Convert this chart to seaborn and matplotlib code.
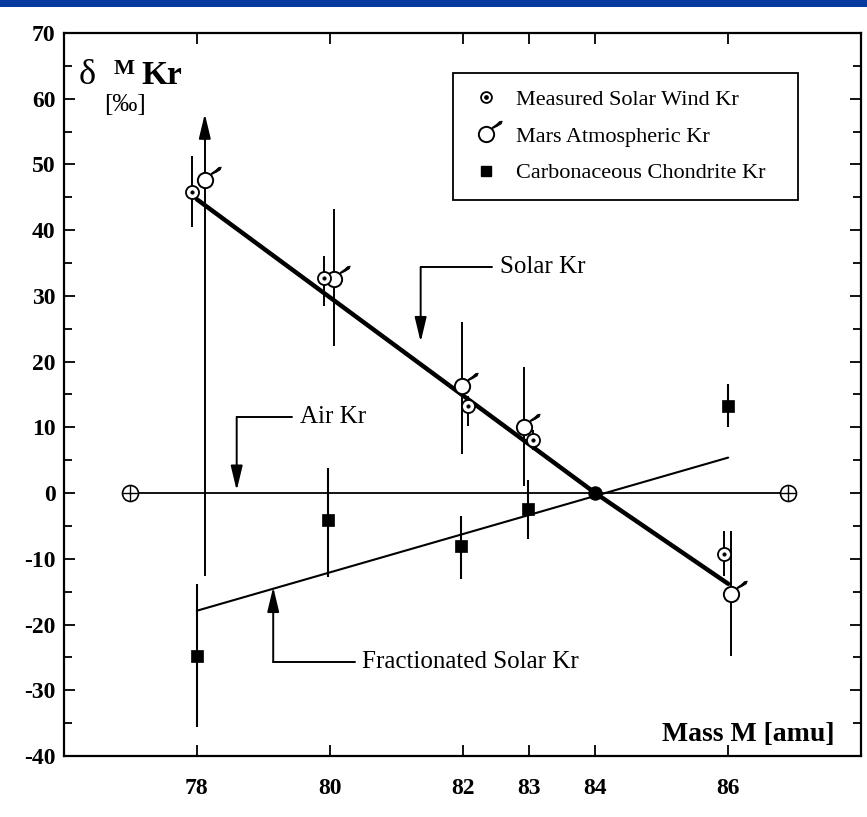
import numpy as np
import pandas as pd
import matplotlib
matplotlib.use("Agg")
import matplotlib.pyplot as plt
import seaborn as sns
from matplotlib.path import Path
from matplotlib.lines import Line2D
from matplotlib.legend_handler import HandlerTuple
from matplotlib.patches import Rectangle
from matplotlib.ticker import MultipleLocator

# ---------------- data ----------------
mass_ticks = [78, 80, 82, 83, 84, 86]
delta_ticks = list(range(-40, 71, 10))

sw_mass = [77.92, 79.91, 82.08, 83.06, 85.94]
sw_delta = [45.8, 32.8, 13.3, 8.1, -9.3]
sw_lo = [40.5, 28.5, 10.2, 6.6, -12.6]
sw_hi = [51.3, 36.1, 14.8, 9.6, -5.7]

mars_mass = [78.12, 80.07, 81.99, 82.92, 86.05]
mars_delta = [47.6, 32.6, 16.3, 10.0, -15.4]
mars_lo = [-12.6, 22.4, 5.9, 1.1, -24.8]
mars_hi = [57.7, 43.2, 26.0, 19.2, -5.7]

cc_mass = [78.0, 79.97, 81.98, 82.99, 86.0]
cc_delta = [-24.8, -4.1, -8.1, -2.4, 13.3]
cc_lo = [-35.6, -12.8, -13.0, -7.0, 10.0]
cc_hi = [-13.9, 3.8, -3.5, 2.0, 16.6]

solar_line_mass = [78, 84, 86]
solar_line_delta = [44.7, 0.0, -13.8]
frac_line_mass = [78, 86]
frac_line_delta = [-17.9, 5.4]
air_line_mass = [77.0, 86.9]
air_line_delta = [0.0, 0.0]
anchor_mass = [84.0]
anchor_delta = [0.0]

legend_labels = ["Measured Solar Wind Kr", "Mars Atmospheric Kr", "Carbonaceous Chondrite Kr"]

# ---------------- style ----------------
sns.set_style("ticks")
plt.rcParams["font.family"] = ["Liberation Serif", "DejaVu Serif"]
plt.rcParams["mathtext.fontset"] = "stix"
for k in ["text.color", "axes.labelcolor", "xtick.color", "ytick.color", "axes.edgecolor"]:
    plt.rcParams[k] = "black"

W, H = 867, 817
fig = plt.figure(figsize=(W / 100, H / 100), dpi=100)
fig.patch.set_facecolor("white")
ax = fig.add_axes([64 / W, 1 - 756 / H, 797 / W, 723 / H])
ax.set_facecolor("white")

# blue bar at top
fig.patches.append(Rectangle((0, 1 - 7 / H), 1, 7 / H, transform=fig.transFigure,
                             facecolor="#073a9e", edgecolor="none", zorder=10))

# Mars symbol tick (arrow flag)
tick_verts = [(0.70, 0.74), (1.40, 1.08), (1.92, 1.40), (2.05, 1.74), (1.72, 1.68),
              (1.33, 1.32), (0.78, 0.94), (0.70, 0.74)]
tick_codes = [Path.MOVETO] + [Path.LINETO] * (len(tick_verts) - 2) + [Path.CLOSEPOLY]
tick_path = Path(tick_verts, tick_codes)
TICK_SCALE = 2.05

# ---------------- lines ----------------
sns.lineplot(x=air_line_mass, y=air_line_delta, color="black", lw=1.3, ax=ax,
             sort=False, estimator=None, zorder=2)
sns.lineplot(x=frac_line_mass, y=frac_line_delta, color="black", lw=1.5, ax=ax,
             sort=False, estimator=None, zorder=2)
sns.lineplot(x=solar_line_mass, y=solar_line_delta, color="black", lw=3.2, ax=ax,
             sort=False, estimator=None, zorder=2)

# error bars
ax.vlines(cc_mass, cc_lo, cc_hi, color="black", lw=1.5, zorder=2)
ax.vlines(sw_mass, sw_lo, sw_hi, color="black", lw=1.4, zorder=2)
ax.vlines(mars_mass[1:], mars_lo[1:], mars_hi[1:], color="black", lw=1.4, zorder=2)
ax.vlines(mars_mass[0], mars_lo[0], mars_hi[0] - 2.5, color="black", lw=1.4, zorder=2)
ax.annotate("", xy=(mars_mass[0], mars_hi[0]), xytext=(mars_mass[0], mars_hi[0] - 4),
            arrowprops=dict(arrowstyle="-|>,head_length=0.75,head_width=0.18",
                            mutation_scale=20, color="black", lw=1.4,
                            shrinkA=0, shrinkB=0), zorder=2)

# ---------------- markers ----------------
D_sw, D_mars, D_air = 9.4, 11.0, 11.5
sns.scatterplot(x=cc_mass, y=cc_delta, marker="s", s=9.0 ** 2, color="black",
                edgecolor="black", linewidth=0.5, ax=ax, zorder=4)
sns.scatterplot(x=anchor_mass, y=anchor_delta, marker="o", s=9.6 ** 2, color="black",
                edgecolor="black", ax=ax, zorder=5)
# air markers (circle with cross)
sns.scatterplot(x=air_line_mass, y=air_line_delta, marker="o", s=D_air ** 2, color="white",
                edgecolor="black", linewidth=1.2, ax=ax, zorder=4)
sns.scatterplot(x=air_line_mass, y=air_line_delta, marker="+", s=D_air ** 2, color="black",
                linewidth=1.0, ax=ax, zorder=5)
# Mars
sns.scatterplot(x=mars_mass, y=mars_delta, marker="o", s=D_mars ** 2, color="white",
                edgecolor="black", linewidth=1.4, ax=ax, zorder=4)
sns.scatterplot(x=mars_mass, y=mars_delta, marker=tick_path, s=(D_mars * TICK_SCALE) ** 2,
                color="black", edgecolor="black", linewidth=0.7, ax=ax, zorder=4)
# solar wind (circle with dot)
sns.scatterplot(x=sw_mass, y=sw_delta, marker="o", s=D_sw ** 2, color="white",
                edgecolor="black", linewidth=1.3, ax=ax, zorder=6)
sns.scatterplot(x=sw_mass, y=sw_delta, marker="o", s=2.6 ** 2, color="black",
                edgecolor="black", linewidth=0.3, ax=ax, zorder=7)

# ---------------- annotations ----------------
ann_fs = 18
arrow_kw = dict(arrowstyle="-|>,head_length=0.75,head_width=0.18", mutation_scale=20,
                color="black", lw=1.4, shrinkA=0, shrinkB=0)
# Solar Kr
ax.text(82.57, 34.4, "Solar Kr", fontsize=ann_fs, ha="left", va="center")
ax.plot([82.45, 81.37], [34.4, 34.4], color="black", lw=1.4)
ax.annotate("", xy=(81.37, 23.0), xytext=(81.37, 34.4), arrowprops=arrow_kw)
# Air Kr
ax.text(79.55, 11.6, "Air Kr", fontsize=ann_fs, ha="left", va="center")
ax.plot([79.43, 78.6], [11.6, 11.6], color="black", lw=1.4)
ax.annotate("", xy=(78.6, 0.4), xytext=(78.6, 11.6), arrowprops=arrow_kw)
# Fractionated Solar Kr
ax.text(80.48, -25.7, "Fractionated Solar Kr", fontsize=ann_fs, ha="left", va="center")
ax.plot([80.38, 79.15], [-25.7, -25.7], color="black", lw=1.4)
ax.annotate("", xy=(79.15, -14.3), xytext=(79.15, -25.7), arrowprops=arrow_kw)

# axis titles inside
ax.text(87.6, -36.7, "Mass M [amu]", fontsize=20, fontweight="bold", ha="right", va="center")
fig.text(79 / W, 1 - 84 / H, "δ", fontsize=26, ha="left", va="baseline")
fig.text(114 / W, 1 - 74 / H, "M", fontsize=16, fontweight="bold", ha="left", va="baseline")
fig.text(141 / W, 1 - 84 / H, "Kr", fontsize=24, fontweight="bold", ha="left", va="baseline")
fig.text(104 / W, 1 - 105 / H, "[‰]", fontsize=18, ha="left", va="center")

# ---------------- legend ----------------
h_sw = (Line2D([], [], ls="", marker="o", ms=7.8, mfc="white", mec="black", mew=1.3),
        Line2D([], [], ls="", marker="o", ms=2.4, mfc="black", mec="black"))
h_mars = (Line2D([], [], ls="", marker="o", ms=D_mars, mfc="white", mec="black", mew=1.4),
          Line2D([], [], ls="", marker=tick_path, ms=D_mars * TICK_SCALE, mfc="black",
                 mec="black", mew=0.7))
h_cc = Line2D([], [], ls="", marker="s", ms=7.0, mfc="black", mec="black")
x0 = (453 - 64) / 797
x1 = (798 - 64) / 797
y_top = (756 - 73) / 723
y_bot = (756 - 195) / 723
leg = ax.legend([h_sw, h_mars, h_cc], legend_labels,
                handler_map={tuple: HandlerTuple(ndivide=1)},
                loc="upper left", bbox_to_anchor=(x0, y_bot, x1 - x0, y_top - y_bot),
                mode="expand", borderaxespad=0, fontsize=16, frameon=True, fancybox=False,
                framealpha=1, edgecolor="black", borderpad=0.75, labelspacing=0.72,
                handlelength=1.5, handletextpad=0.6)
leg.get_frame().set_linewidth(1.3)

# ---------------- axes ----------------
ax.set_xlim(76, 88)
ax.set_ylim(-40, 70)
ax.set_xticks(mass_ticks)
ax.set_xticklabels([str(m) for m in mass_ticks], fontweight="bold", fontsize=17)
ax.set_yticks(delta_ticks)
ax.set_yticklabels([str(v) for v in delta_ticks], fontweight="bold", fontsize=17)
ax.yaxis.set_minor_locator(MultipleLocator(5))
ax.tick_params(axis="both", which="both", direction="in", top=True, right=True,
               colors="black", width=1.3)
ax.tick_params(axis="both", which="major", length=8)
ax.tick_params(axis="y", which="minor", length=6)
ax.tick_params(axis="x", which="major", pad=16)
ax.tick_params(axis="y", which="major", pad=6)
ax.set_xlabel("")
ax.set_ylabel("")
for sp in ax.spines.values():
    sp.set_color("black")
    sp.set_linewidth(1.6)

fig.savefig("out.png", dpi=100, facecolor="white")
